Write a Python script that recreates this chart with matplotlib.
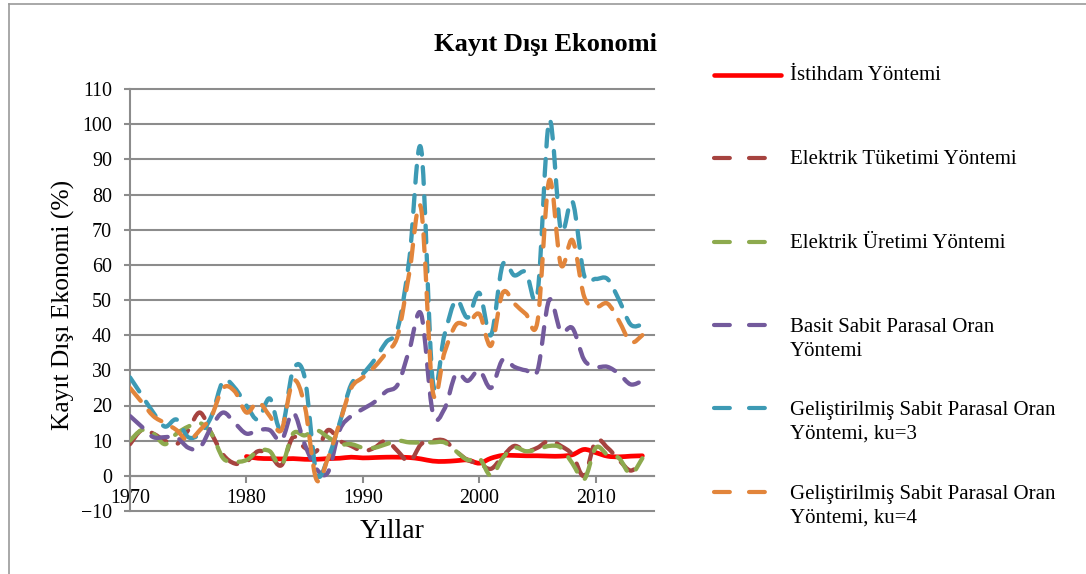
import numpy as np
import matplotlib
matplotlib.use("Agg")
import matplotlib.pyplot as plt
from matplotlib.path import Path
from matplotlib.patches import PathPatch
from matplotlib.lines import Line2D

# ---------------- data ----------------
years = list(range(1970, 2015))
istihdam_years = list(range(1980, 2015))
istihdam = [5.5, 5.0, 4.9, 4.8, 4.9, 4.7, 4.7, 4.9, 5.0, 5.3,
            5.1, 5.2, 5.3, 5.3, 5.2, 4.8, 4.2, 4.1, 4.3, 4.5,
            3.6, 5.0, 5.8, 5.8, 5.7, 5.7, 5.6, 5.6, 6.0, 7.5,
            6.6, 5.6, 5.4, 5.6, 5.7]
tuketim = [9, 13, 12, 10, 9, 13, 18, 12, 6, 3.5,
           4, 7, 6, 3, 11, 8, 7, 13, 10, 8.5,
           7, 8, 10, 7, 4, 9, 10, 10, 7, 4.5,
           3.5, 2, 5.5, 8.5, 7, 8, 10, 8.5, 6, 0,
           10, 8, 4.5, 1.5, 4]
uretim = [10, 13, 12, 9, 12, 14, 15, 12, 5, 4,
          4.5, 7, 7, 3, 12, 11.5, 13, 11, 9, 9,
          8, 8, 9, 10, 9.5, 9.5, 9.5, 9.5, 7, 4.5,
          5, 0, 5, 8, 7, 7.5, 8.5, 8, 3.5, -1,
          8, 6, 5, 0.5, 5]
basit = [17, 14, 11, 11, 11, 8, 8, 14, 18, 15,
         12, 13, 13, 10, 18, 9, 2, 1, 13, 17,
         19, 21, 24, 26, 36, 46, 18, 19, 29, 27,
         30, 25, 33, 31, 30, 30, 50, 41, 42, 33,
         31, 31, 29, 26, 27]
ku3 = [28, 23, 18, 14, 16, 11, 12, 17, 27, 25,
       20, 16, 22, 13, 30, 28, 1, 5, 15, 26,
       29, 33, 38, 42, 62, 93, 27, 40, 50, 45,
       52, 40, 60, 57, 58, 52, 101, 70, 78, 57,
       56, 56, 50, 43, 43]
ku4 = [25, 21, 17, 15, 13, 10, 13, 17, 25, 24,
       18, 21, 17, 13, 27, 20, -1, 5, 15, 25,
       28, 31, 35, 40, 58, 76, 24, 35, 43, 43,
       46, 37, 52, 49, 46, 44, 84, 60, 67, 51,
       48, 49, 44, 38, 40]

labels = ["İstihdam Yöntemi",
          "Elektrik Tüketimi Yöntemi",
          "Elektrik Üretimi Yöntemi",
          "Basit Sabit Parasal Oran\nYöntemi",
          "Geliştirilmiş Sabit Parasal Oran\nYöntemi, ku=3",
          "Geliştirilmiş Sabit Parasal Oran\nYöntemi, ku=4"]
colors = ["#FF0000", "#A6433F", "#8DAA4E", "#735A9C", "#3D9AB4", "#E2853B"]
x_ticks = [1970, 1980, 1990, 2000, 2010]
y_ticks = list(range(-10, 111, 10))

# ---------------- figure ----------------
W, H = 1086, 574
plt.rcParams['font.family'] = ['Liberation Serif', 'DejaVu Serif']
fig = plt.figure(figsize=(W / 100, H / 100), dpi=100)
ax = fig.add_axes([130 / W, 1 - 511 / H, (654 - 130) / W, (511 - 89) / H])

grid_col = "#8c8c8c"


def smooth_path(xs, ys):
    pts = np.column_stack([np.asarray(xs, float), np.asarray(ys, float)])
    n = len(pts)
    verts = [pts[0]]
    codes = [Path.MOVETO]
    for i in range(n - 1):
        p0 = pts[i - 1] if i > 0 else pts[i]
        p1 = pts[i]
        p2 = pts[i + 1]
        p3 = pts[i + 2] if i + 2 < n else pts[i + 1]
        c1 = p1 + (p2 - p0) / 6.0
        c2 = p2 - (p3 - p1) / 6.0
        verts += [c1, c2, p2]
        codes += [Path.CURVE4] * 3
    return Path(np.array(verts), codes)


series = [(istihdam_years, istihdam), (years, tuketim), (years, uretim),
          (years, basit), (years, ku3), (years, ku4)]
dash_plot = (0, (3.9, 2.9))
for k, ((xs, ys), col) in enumerate(zip(series, colors)):
    path = smooth_path(xs, ys)
    if k == 0:
        patch = PathPatch(path, fill=False, edgecolor=col, lw=3.4,
                          transform=ax.transData, zorder=3 + k)
    else:
        patch = PathPatch(path, fill=False, edgecolor=col, lw=3.1,
                          linestyle=dash_plot, transform=ax.transData,
                          zorder=3 + k)
    patch.set_capstyle('round')
    patch.set_joinstyle('round')
    ax.add_patch(patch)

ax.set_xlim(1970, 2015)
ax.set_ylim(-10, 110)
ax.set_xticks(x_ticks)
ax.set_yticks(y_ticks)
ax.tick_params(axis='both', labelsize=14.4, colors=grid_col, labelcolor='black')
ax.tick_params(axis='y', length=4.5, width=1.5, pad=8.5)
ax.tick_params(axis='x', length=5, width=1.5, pad=4.5, direction='out')
ax.yaxis.grid(True, color=grid_col, lw=1.5)
for gl in ax.get_ygridlines():
    gl.set_clip_on(False)
ax.set_axisbelow(True)
for s in ['top', 'right']:
    ax.spines[s].set_visible(False)
ax.spines['bottom'].set_position(('data', 0))
ax.spines['bottom'].set_color(grid_col)
ax.spines['bottom'].set_linewidth(1.5)
ax.spines['left'].set_color(grid_col)
ax.spines['left'].set_linewidth(1.5)

# titles / axis labels
fig.text(546 / W, 1 - 45 / H, "Kayıt Dışı Ekonomi", fontsize=19,
         fontweight='bold', ha='center', va='center')
fig.text(63 / W, 1 - 305 / H, "Kayıt Dışı Ekonomi (%)", fontsize=18.4,
         rotation=90, ha='center', va='center')
fig.text(392 / W, 1 - 531 / H, "Yıllar", fontsize=20, ha='center', va='center')

# legend (drawn manually to mimic the Excel layout)
leg_y = [75, 158, 242, 325, 408, 492]
for lab, col, yy in zip(labels, colors, leg_y):
    yf = 1 - yy / H
    if col == colors[0]:
        ln = Line2D([714 / W, 781 / W], [yf, yf], transform=fig.transFigure,
                    color=col, lw=3.3, solid_capstyle='round')
    else:
        ln = Line2D([714 / W, 765 / W], [yf, yf], transform=fig.transFigure,
                    color=col, lw=3.0, linestyle=(0, (3.8, 4.6)),
                    dash_capstyle='round')
    fig.add_artist(ln)
    nlines = lab.count("\n") + 1
    yc = yy + (nlines - 1) * 13.5
    fig.text(790 / W, 1 - (yc + 1) / H, lab, fontsize=15, ha='left', va='center',
             linespacing=1.3)

# outer border (left and top edges visible)
fig.add_artist(Line2D([9 / W, 9 / W], [0, 1 - 4 / H], transform=fig.transFigure,
                      color="#9a9a9a", lw=1.2))
fig.add_artist(Line2D([9 / W, 1], [1 - 4 / H, 1 - 4 / H], transform=fig.transFigure,
                      color="#9a9a9a", lw=1.2))

fig.savefig("out.png", dpi=100)
